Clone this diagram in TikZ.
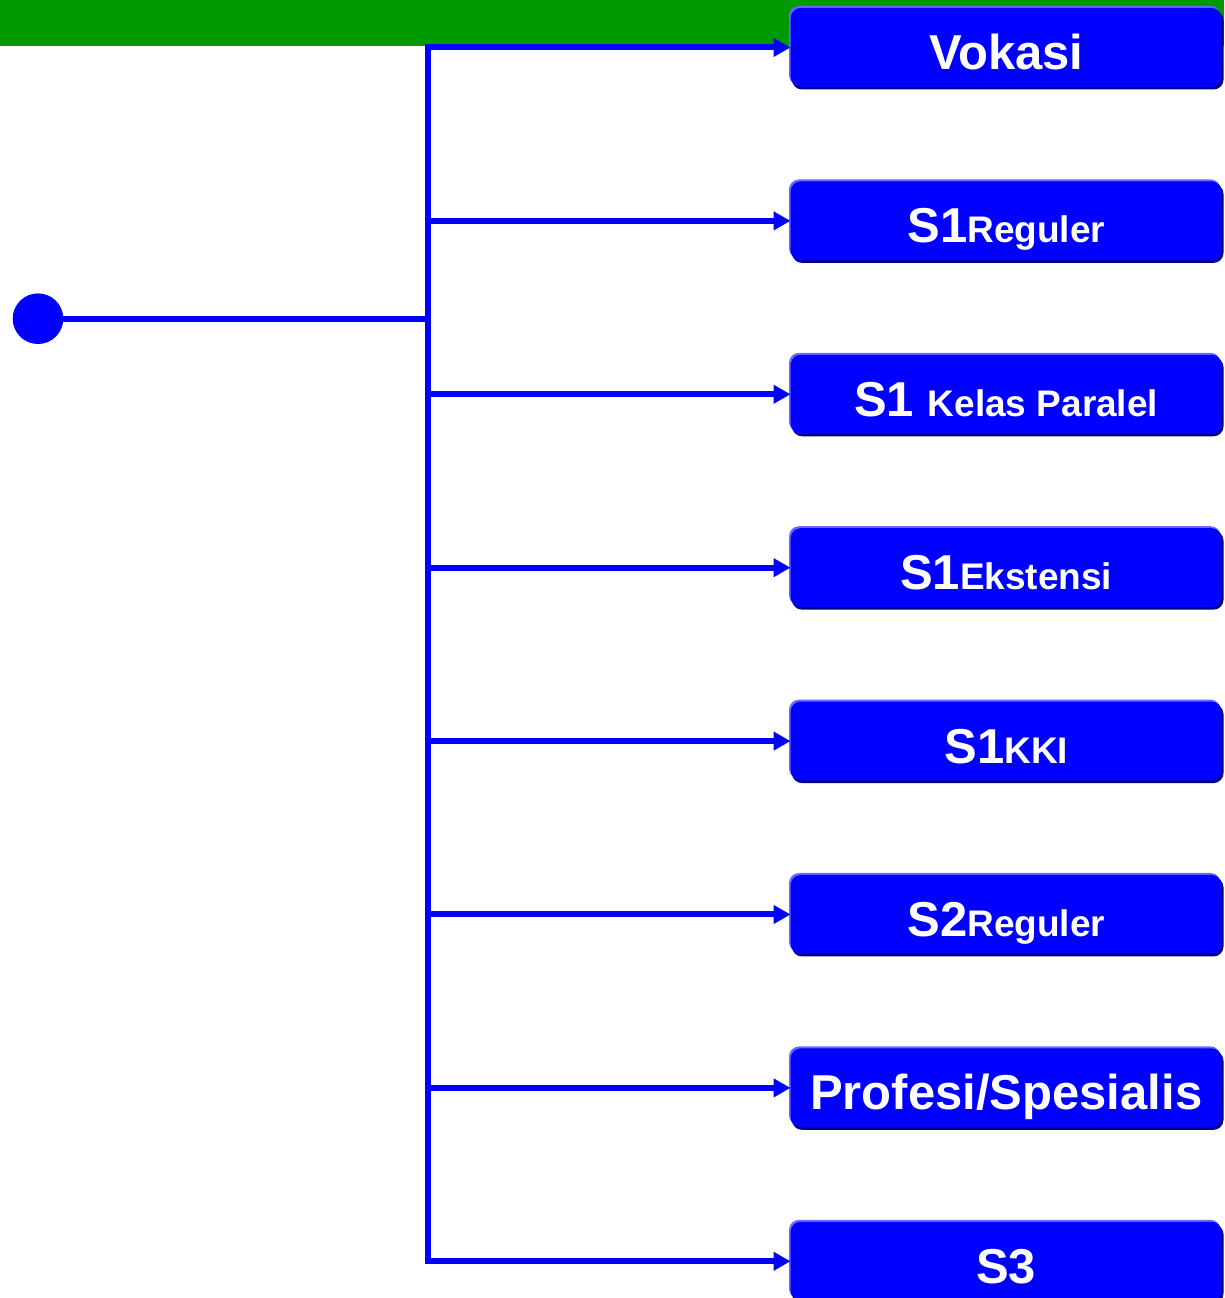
\documentclass[tikz,border=0pt]{standalone}
\usepackage{fontspec}
\setmainfont{Liberation Sans}
\usetikzlibrary{arrows.meta}
\definecolor{pblue}{RGB}{0,0,255}
\definecolor{pgreen}{RGB}{0,153,0}
\definecolor{plight}{RGB}{105,105,255}
\definecolor{pdark}{RGB}{0,0,125}
\newcommand\smtxt[1]{{\fontsize{37}{41}\selectfont #1}}
\tikzset{
  optbox/.style={fill=pblue, rounded corners=10pt, minimum width=431pt, minimum height=79pt,
    inner sep=0pt, text height=44pt, text depth=0pt, text=white,
    font=\fontsize{49}{53}\selectfont\bfseries, anchor=west},
  link/.style={draw=pblue, line width=6pt, -{Triangle[length=17pt,width=18pt]}},
  trunk/.style={draw=pblue, line width=6pt},
  dotnode/.style={circle, fill=pblue, minimum size=50.6pt, inner sep=0pt},
}
\begin{document}
\begin{tikzpicture}[x=1pt,y=1pt]
\useasboundingbox (0,0) rectangle (1224,1298);
\fill[pgreen] (0,1252) rectangle (1224,1298);
\coordinate (jx) at (427.5,0);
\foreach \i/\nm/\txt in {0/vok/{Vokasi}, 1/sa/{S1\smtxt{Reguler}}, 2/sb/{S1\ \smtxt{Kelas Paralel}},
  3/sc/{S1\smtxt{Ekstensi}}, 4/sd/{S1\smtxt{KKI}}, 5/se/{S2\smtxt{Reguler}},
  6/sf/{Profesi/Spesialis}, 7/sg/{S3}} {
  \pgfmathsetmacro\cy{1298-47.5-173.4*\i}
  \fill[pdark, rounded corners=10pt] (792,{\cy-42}) rectangle (1223.5,{\cy+37});
  \fill[plight, rounded corners=10pt] (789,{\cy-37.5}) rectangle (1220.5,{\cy+41.5});
  \node[optbox] (\nm) at (790.5,\cy) {\txt};
}
\draw[trunk, line cap=rect] (vok.west -| jx) -- (sg.west -| jx);
\foreach \nm in {vok,sa,sb,sc,sd,se,sf,sg}
  \draw[link] (\nm.west -| jx) -- (\nm.west);
\node[dotnode] (dot) at (38,{1298-318.7}) {};
\draw[trunk] (dot.center) -- (dot.center -| jx);
\end{tikzpicture}
\end{document}
